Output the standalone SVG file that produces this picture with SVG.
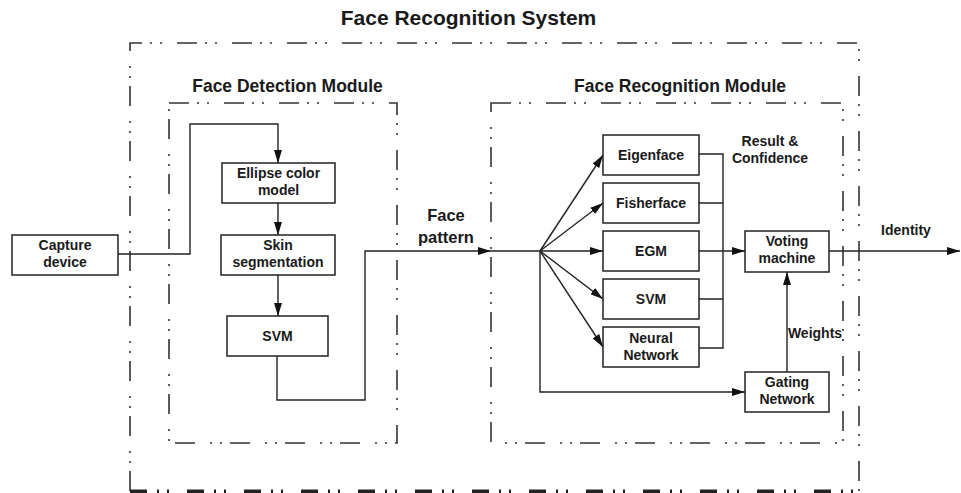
<svg xmlns="http://www.w3.org/2000/svg" width="961" height="493" viewBox="0 0 961 493">
<style>
text{font-family:"Liberation Sans",Arial,sans-serif;font-weight:bold;fill:#1a1a1a;text-anchor:middle}
.t1{font-size:21px}
.t2{font-size:17.5px}
.t3{font-size:16.5px}
.lb{font-size:14px}
.box{fill:#fff;stroke:#222;stroke-width:1.5}
.ln{fill:none;stroke:#222;stroke-width:1.4}
.bd{fill:none;stroke:#333;stroke-width:1.6;stroke-dasharray:20 8 2 8 2 15}
.bdb{fill:none;stroke:#222;stroke-width:4;stroke-dasharray:17 10 2 8 2 18}
</style>
<defs>
<marker id="ah" viewBox="0 0 13 8" refX="13" refY="4" markerWidth="13" markerHeight="8" markerUnits="userSpaceOnUse" orient="auto">
<path d="M0,0 L13,4 L0,8 z" fill="#111"/>
</marker>
</defs>
<rect width="961" height="493" fill="#fff"/>

<g id="system">
<text class="t1" x="468.5" y="25">Face Recognition System</text>
<path class="bd" d="M130,491 L130,43 L859,43 L859,491"/>
<path class="bdb" d="M130,491.5 L859,491.5"/>
</g>

<g id="detection-module">
<text class="t2" x="287.5" y="92">Face Detection Module</text>
<path class="bd" d="M169,103 L397,103 L397,443 L169,443 Z"/>
</g>

<g id="recognition-module">
<text class="t2" x="680" y="92">Face Recognition Module</text>
<path class="bd" d="M491,103 L843,103 L843,443 L491,443 Z"/>
</g>

<g id="connectors">
<path class="ln" d="M118,254 L190,254 L190,124 L278,124 L278,163" marker-end="url(#ah)"/>
<path class="ln" d="M278,203 L278,235" marker-end="url(#ah)"/>
<path class="ln" d="M278,275 L278,316" marker-end="url(#ah)"/>
<path class="ln" d="M277,356 L277,400 L365,400 L365,251 L491,251" marker-end="url(#ah)"/>
<path class="ln" d="M491,251 L540,251"/>
<path class="ln" d="M540,251 L603,155" marker-end="url(#ah)"/>
<path class="ln" d="M540,251 L603,203" marker-end="url(#ah)"/>
<path class="ln" d="M540,251 L603,251" marker-end="url(#ah)"/>
<path class="ln" d="M540,251 L603,299" marker-end="url(#ah)"/>
<path class="ln" d="M540,251 L603,347" marker-end="url(#ah)"/>
<path class="ln" d="M540,251 L540,392 L745,392" marker-end="url(#ah)"/>
<path class="ln" d="M699,154 L723,154 L723,348 L699,348 M699,203 L723,203 M699,299 L723,299"/>
<path class="ln" d="M699,251 L745,251" marker-end="url(#ah)"/>
<path class="ln" d="M787,372 L787,272" marker-end="url(#ah)"/>
<path class="ln" d="M829,251 L960,251" marker-end="url(#ah)"/>
<text class="t3" x="446" y="221">Face</text>
<text class="t3" x="446" y="243">pattern</text>
<text class="lb" x="770" y="146">Result &amp;</text>
<text class="lb" x="770" y="163">Confidence</text>
<text class="lb" x="815" y="338">Weights</text>
<text class="lb" x="906" y="235">Identity</text>
</g>

<g id="capture-device">
<rect class="box" x="12" y="235" width="106" height="40"/>
<text class="lb" x="65" y="250">Capture</text>
<text class="lb" x="65" y="267">device</text>
</g>

<g id="ellipse-color-model">
<rect class="box" x="222" y="163" width="113" height="40"/>
<text class="lb" x="278.5" y="178">Ellipse color</text>
<text class="lb" x="278.5" y="195">model</text>
</g>

<g id="skin-segmentation">
<rect class="box" x="221" y="235" width="114" height="40"/>
<text class="lb" x="278" y="250">Skin</text>
<text class="lb" x="278" y="267">segmentation</text>
</g>

<g id="svm-detect">
<rect class="box" x="227" y="316" width="101" height="40"/>
<text class="lb" x="277.5" y="341">SVM</text>
</g>

<g id="eigenface">
<rect class="box" x="603" y="135" width="96" height="40"/>
<text class="lb" x="651" y="160">Eigenface</text>
</g>

<g id="fisherface">
<rect class="box" x="603" y="183" width="96" height="40"/>
<text class="lb" x="651" y="208">Fisherface</text>
</g>

<g id="egm">
<rect class="box" x="603" y="231" width="96" height="40"/>
<text class="lb" x="651" y="256">EGM</text>
</g>

<g id="svm-recog">
<rect class="box" x="603" y="279" width="96" height="40"/>
<text class="lb" x="651" y="304">SVM</text>
</g>

<g id="neural-network">
<rect class="box" x="603" y="327" width="96" height="40"/>
<text class="lb" x="651" y="343">Neural</text>
<text class="lb" x="651" y="360">Network</text>
</g>

<g id="voting-machine">
<rect class="box" x="745" y="231" width="84" height="41"/>
<text class="lb" x="787" y="246">Voting</text>
<text class="lb" x="787" y="263">machine</text>
</g>

<g id="gating-network">
<rect class="box" x="745" y="372" width="84" height="40"/>
<text class="lb" x="787" y="387">Gating</text>
<text class="lb" x="787" y="404">Network</text>
</g>
</svg>
